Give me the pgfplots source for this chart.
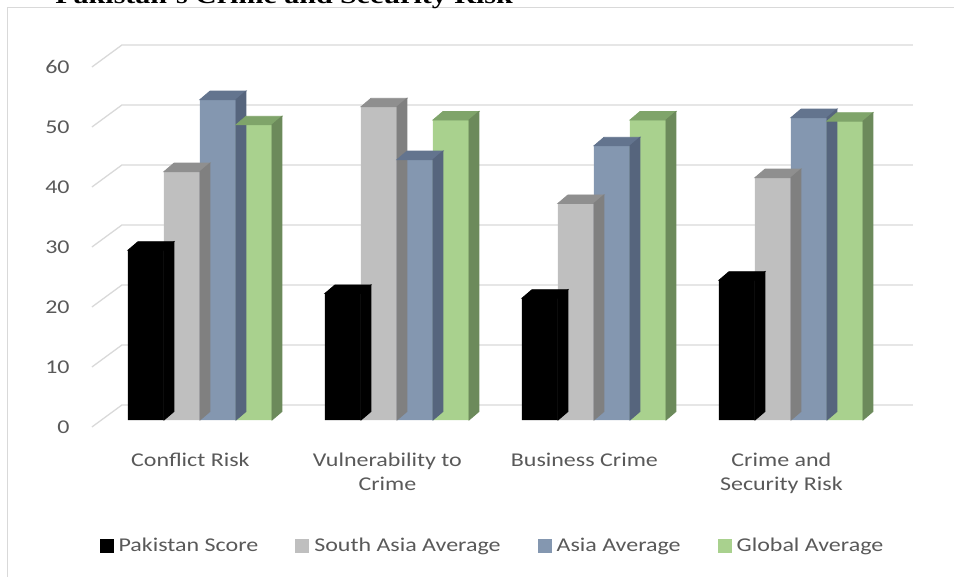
\documentclass[border=0pt]{standalone}
\usepackage{fontspec}
\setmainfont{Carlito}[FakeStretch=1.23]
\newfontfamily\titlefont{Liberation Serif}[FakeStretch=1.23]
\usepackage{pgfplots}
\usepackage{pgfplotstable}
\pgfplotsset{compat=1.18}
\definecolor{labelgray}{HTML}{595959}
\definecolor{gridgray}{HTML}{D9D9D9}
\definecolor{framegray}{HTML}{D9D9D9}
\definecolor{sagray}{HTML}{BFBFBF}
\definecolor{sagraytop}{HTML}{8F8F8F}
\definecolor{sagrayside}{HTML}{808080}
\definecolor{asiablue}{HTML}{8497B0}
\definecolor{asiabluetop}{HTML}{63748E}
\definecolor{asiablueside}{HTML}{56657D}
\definecolor{globgreen}{HTML}{A9D18E}
\definecolor{globgreentop}{HTML}{7FA46A}
\definecolor{globgreenside}{HTML}{6C8A5B}
\pgfdeclareplotmark{nothing}{}
\def\dx{5pt}
\def\dy{4.25pt}
\pgfplotsset{
  faces/.style n args={3}{
    forget plot, only marks, mark=nothing, scatter,
    visualization depends on={rawy \as \val},
    scatter/@pre marker code/.code={%
      \pgfmathsetmacro\hh{\val*3}%
      \fill[#2] (#1-9pt,0pt) -- (#1+9pt,0pt) -- (#1+9pt+\dx,\dy) -- (#1-9pt+\dx,\dy) -- cycle;
      \fill[#3] (#1+9pt,0pt) -- (#1+9pt+\dx,\dy) -- (#1+9pt+\dx,\dy-\hh pt) -- (#1+9pt,-\hh pt) -- cycle;
    },
    scatter/@post marker code/.code={},
  },
}
\pgfplotstableread{
x pak sa asia glob
0 28.3 41.4 53.4 49.2
1 21.1 52.2 43.4 50.0
2 20.3 36.1 45.7 50.0
3 23.3 40.4 50.4 49.8
}\datatable
\begin{document}
\begin{tikzpicture}
\draw[framegray, line width=0.6pt] (3.65pt,-3.65pt) rectangle (520pt,-320pt);
\node[anchor=base west, inner sep=0pt] at (27.5pt,-2pt) {\titlefont\bfseries\fontsize{12.2pt}{14pt}\selectfont Pakistan’s Crime and Security Risk};
\begin{axis}[
  at={(50.75pt,-210pt)}, anchor=south west,
  scale only axis, width=394pt, height=180pt,
  xmin=-0.5, xmax=3.5, ymin=0, ymax=60,
  clip=false,
  axis line style={draw=none}, tick style={draw=none}, major tick length=0pt,
  ytick={0,10,...,60},
  xtick={0,1,2,3},
  xticklabels={Conflict Risk, {Vulnerability to\\Crime}, Business Crime, {Crime and\\Security Risk}},
  /pgf/number format/assume math mode=true,
  tick label style={font=\fontsize{9.75pt}{12pt}\selectfont, text=labelgray, inner sep=0pt},
  yticklabel style={anchor=east, xshift=-15.75pt, yshift=-3.5pt},
  xticklabel style={anchor=north, align=center, xshift=-4.8pt, yshift=-16.25pt},
  legend columns=4,
  legend image code/.code={\fill[#1, draw=none] (0pt,-3.5pt) rectangle (7pt,3.5pt);},
  legend style={at={(0.498,-0.35)}, anchor=center, draw=none, fill=none,
    font=\fontsize{9.75pt}{12pt}\selectfont, text=labelgray,
    nodes={inner sep=0pt, inner xsep=2.5pt},
    /tikz/every even column/.append style={column sep=16pt}},
]
\pgfplotsinvokeforeach{0,10,...,60}{
  \draw[gridgray, line width=0.65pt] ([shift={(-4.8pt,-3.5pt)}]axis cs:-0.5,#1) -- ([shift={(10.2pt,7.5pt)}]axis cs:-0.5,#1) -- ([shift={(10.2pt,7.5pt)}]axis cs:3.515,#1);
}
\addplot[ybar, bar width=18pt, bar shift=-27pt, fill=black, draw=none] table[x=x,y=pak]{\datatable};
\addlegendentry{Pakistan Score}
\addplot[faces={-27pt}{black}{black}] table[x=x,y=pak]{\datatable};
\addplot[ybar, bar width=18pt, bar shift=-9pt, fill=sagray, draw=none] table[x=x,y=sa]{\datatable};
\addlegendentry{South Asia Average}
\addplot[faces={-9pt}{sagraytop}{sagrayside}] table[x=x,y=sa]{\datatable};
\addplot[ybar, bar width=18pt, bar shift=9pt, fill=asiablue, draw=none] table[x=x,y=asia]{\datatable};
\addlegendentry{Asia Average}
\addplot[faces={9pt}{asiabluetop}{asiablueside}] table[x=x,y=asia]{\datatable};
\addplot[ybar, bar width=18pt, bar shift=27pt, fill=globgreen, draw=none] table[x=x,y=glob]{\datatable};
\addlegendentry{Global Average}
\addplot[faces={27pt}{globgreentop}{globgreenside}] table[x=x,y=glob]{\datatable};
\end{axis}
\pgfresetboundingbox
\path[use as bounding box] (0pt,0pt) rectangle (477pt,-288.5pt);
\end{tikzpicture}
\end{document}
